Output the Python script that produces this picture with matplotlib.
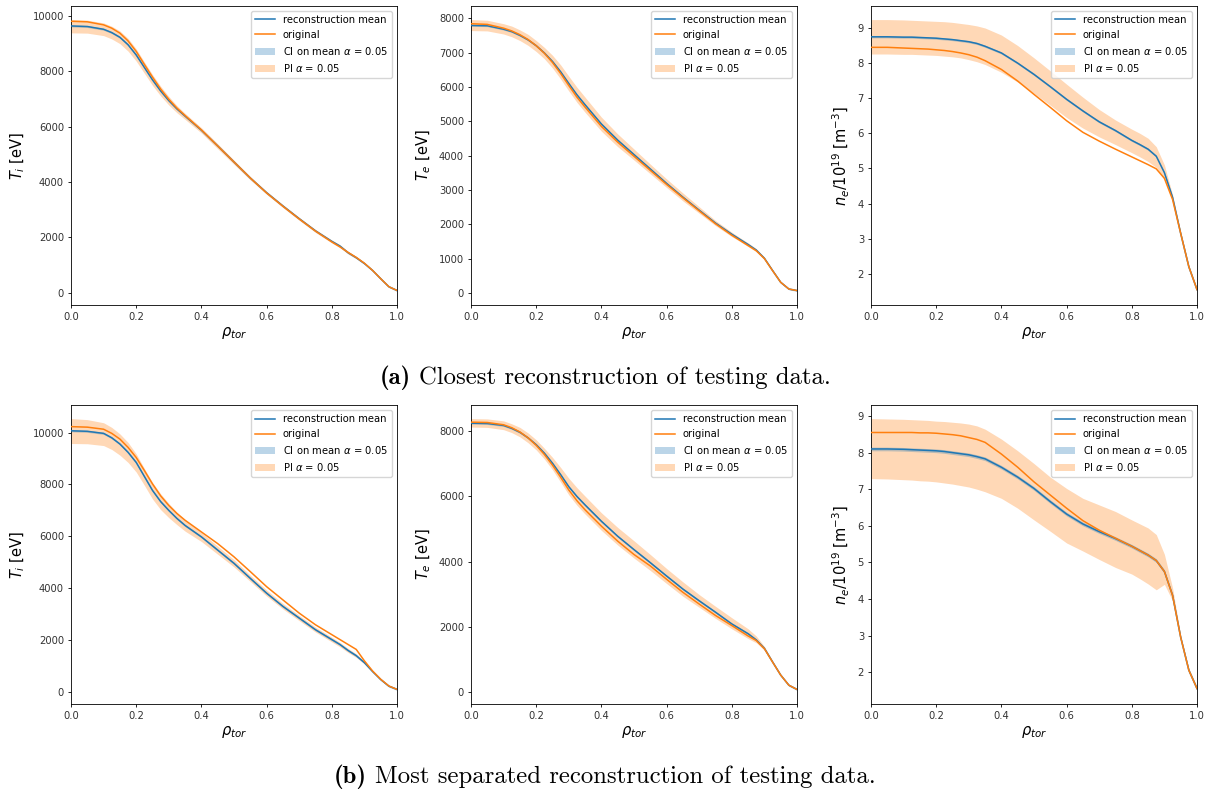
import matplotlib
matplotlib.use("Agg")
import matplotlib.pyplot as plt
import numpy as np

# ---------------- data ----------------
rho = [0, .05, .1, .125, .15, .175, .2, .225, .25, .275, .3, .325, .35, .4, .45,
       .5, .55, .6, .65, .7, .75, .8, .825, .85, .875, .9, .925, .95, .975, 1.0]

# (a) closest reconstruction
a_ti_orig = [9810, 9790, 9680, 9560, 9380, 9100, 8720, 8250, 7790, 7360,
             6990, 6670, 6400, 5880, 5300, 4720, 4140, 3600, 3120, 2660,
             2220, 1830, 1650, 1450, 1270, 1060, 800, 500, 210, 75]
a_ti_mean = [9640, 9620, 9520, 9400, 9230, 8960, 8590, 8140, 7690, 7290,
             6940, 6640, 6380, 5870, 5300, 4720, 4140, 3610, 3130, 2670,
             2230, 1850, 1680, 1440, 1260, 1050, 800, 500, 210, 75]
a_ti_pi_hi = [9870, 9850, 9750, 9630, 9460, 9190, 8810, 8340, 7880, 7460,
              7090, 6760, 6480, 5960, 5380, 4790, 4200, 3660, 3180, 2720,
              2280, 1900, 1730, 1490, 1300, 1080, 825, 515, 220, 85]
a_ti_pi_lo = [9390, 9380, 9290, 9170, 9000, 8730, 8370, 7930, 7490, 7110,
              6780, 6500, 6260, 5770, 5200, 4630, 4070, 3550, 3070, 2610,
              2170, 1790, 1620, 1390, 1220, 1020, 775, 480, 195, 65]
a_ti_ci = 35

a_te_orig = [7840, 7820, 7710, 7630, 7520, 7380, 7200, 6980, 6710, 6390,
             6040, 5700, 5410, 4850, 4390, 3980, 3570, 3160, 2770, 2390,
             2015, 1680, 1530, 1380, 1230, 1000, 650, 310, 115, 70]
a_te_mean = [7790, 7780, 7680, 7610, 7500, 7370, 7200, 6990, 6740, 6440,
             6100, 5770, 5480, 4920, 4450, 4030, 3610, 3190, 2790, 2410,
             2035, 1710, 1560, 1410, 1250, 1010, 655, 310, 115, 70]
a_te_pi_hi = [7960, 7940, 7840, 7770, 7660, 7530, 7350, 7150, 6920, 6640,
              6310, 5990, 5700, 5120, 4630, 4190, 3750, 3320, 2910, 2510,
              2110, 1770, 1610, 1460, 1290, 1040, 680, 330, 130, 85]
a_te_pi_lo = [7640, 7630, 7540, 7460, 7350, 7210, 7030, 6820, 6550, 6230,
              5880, 5550, 5260, 4710, 4260, 3870, 3470, 3070, 2680, 2320,
              1960, 1640, 1500, 1350, 1200, 970, 625, 290, 100, 55]
a_te_ci = 25

a_ne_orig = [8.45, 8.45, 8.43, 8.42, 8.41, 8.40, 8.38, 8.36, 8.33, 8.29,
             8.24, 8.17, 8.07, 7.82, 7.49, 7.11, 6.74, 6.36, 6.03, 5.78,
             5.55, 5.33, 5.22, 5.11, 4.99, 4.72, 4.12, 3.15, 2.2, 1.55]
a_ne_mean = [8.75, 8.75, 8.74, 8.74, 8.73, 8.72, 8.71, 8.69, 8.67, 8.64,
             8.61, 8.56, 8.48, 8.29, 8.0, 7.68, 7.33, 6.97, 6.64, 6.33,
             6.08, 5.8, 5.68, 5.55, 5.35, 4.88, 4.18, 3.15, 2.2, 1.55]
a_ne_pi_hi = [9.24, 9.24, 9.23, 9.22, 9.21, 9.2, 9.19, 9.18, 9.16, 9.13,
              9.1, 9.06, 9.0, 8.8, 8.5, 8.15, 7.78, 7.4, 7.03, 6.68,
              6.38, 6.12, 6.0, 5.86, 5.62, 5.1, 4.25, 3.2, 2.25, 1.6]
a_ne_pi_lo = [8.26, 8.26, 8.25, 8.25, 8.24, 8.23, 8.22, 8.2, 8.18, 8.15,
              8.1, 8.04, 7.96, 7.74, 7.46, 7.14, 6.8, 6.45, 6.15, 5.9,
              5.68, 5.45, 5.33, 5.2, 5.03, 4.68, 4.08, 3.1, 2.15, 1.5]
a_ne_ci = 0.03

# (b) most separated reconstruction
b_ti_orig = [10230, 10210, 10130, 9970, 9750, 9430, 9040, 8540, 8020, 7560,
             7190, 6880, 6620, 6170, 5720, 5210, 4640, 4060, 3550, 3040,
             2590, 2210, 2020, 1830, 1640, 1200, 810, 490, 230, 100]
b_ti_mean = [10070, 10050, 9970, 9800, 9560, 9240, 8850, 8310, 7770, 7340,
             7000, 6690, 6420, 5980, 5470, 4960, 4380, 3810, 3300, 2850,
             2400, 2020, 1830, 1600, 1400, 1130, 790, 480, 225, 100]
b_ti_pi_hi = [10540, 10500, 10380, 10200, 9950, 9620, 9180, 8620, 8080, 7640,
              7270, 6930, 6630, 6150, 5620, 5100, 4500, 3930, 3410, 2950,
              2500, 2110, 1910, 1680, 1470, 1180, 820, 500, 240, 110]
b_ti_pi_lo = [9580, 9570, 9500, 9350, 9130, 8850, 8480, 7970, 7440, 7030,
              6720, 6450, 6200, 5800, 5310, 4820, 4260, 3700, 3200, 2750,
              2310, 1930, 1740, 1520, 1330, 1080, 760, 460, 210, 90]
b_ti_ci = 40

b_te_orig = [8280, 8270, 8200, 8110, 7980, 7800, 7570, 7290, 6960, 6590,
             6200, 5870, 5590, 5090, 4630, 4220, 3870, 3460, 3060, 2700,
             2350, 2040, 1880, 1720, 1580, 1330, 920, 520, 210, 80]
b_te_mean = [8250, 8240, 8180, 8090, 7970, 7800, 7590, 7330, 7020, 6670,
             6300, 6000, 5740, 5240, 4780, 4370, 3970, 3560, 3160, 2800,
             2450, 2090, 1940, 1790, 1600, 1340, 925, 520, 210, 80]
b_te_pi_hi = [8390, 8380, 8320, 8230, 8120, 7950, 7740, 7480, 7200, 6890,
              6560, 6270, 6010, 5500, 5050, 4640, 4220, 3790, 3380, 2990,
              2630, 2280, 2110, 1940, 1720, 1400, 960, 550, 230, 95]
b_te_pi_lo = [8130, 8120, 8050, 7960, 7830, 7650, 7430, 7150, 6820, 6440,
              6050, 5730, 5460, 4960, 4510, 4110, 3730, 3330, 2940, 2600,
              2260, 1940, 1790, 1640, 1510, 1280, 890, 490, 190, 65]
b_te_ci = 30

b_ne_orig = [8.55, 8.55, 8.55, 8.55, 8.54, 8.54, 8.53, 8.51, 8.49, 8.46,
             8.41, 8.36, 8.28, 7.96, 7.6, 7.2, 6.84, 6.48, 6.14, 5.88,
             5.66, 5.44, 5.32, 5.2, 5.05, 4.75, 4.1, 2.95, 2.05, 1.55]
b_ne_mean = [8.1, 8.1, 8.09, 8.08, 8.07, 8.06, 8.05, 8.03, 8.0, 7.97,
             7.94, 7.89, 7.83, 7.6, 7.33, 7.02, 6.66, 6.32, 6.05, 5.84,
             5.65, 5.44, 5.32, 5.2, 5.05, 4.75, 4.1, 2.95, 2.05, 1.55]
b_ne_pi_hi = [8.93, 8.92, 8.91, 8.9, 8.89, 8.88, 8.86, 8.85, 8.83, 8.81,
              8.78, 8.73, 8.64, 8.37, 8.05, 7.7, 7.33, 7.02, 6.75, 6.57,
              6.39, 6.16, 6.05, 5.94, 5.76, 5.22, 4.3, 3.0, 2.1, 1.6]
b_ne_pi_lo = [7.29, 7.28, 7.26, 7.25, 7.23, 7.22, 7.2, 7.17, 7.14, 7.1,
              7.06, 7.0, 6.93, 6.75, 6.48, 6.16, 5.85, 5.53, 5.31, 5.08,
              4.86, 4.68, 4.55, 4.41, 4.25, 4.4, 3.95, 2.9, 2.0, 1.5]
b_ne_ci = 0.05

ylabels = [r'$T_i$ [eV]', r'$T_e$ [eV]', r'$n_e/10^{19}$ [m$^{-3}$]']
xlabel = r'$\rho_{tor}$'
caption_tags = ['(a)', '(b)']
caption_texts = ['Closest reconstruction of testing data.',
                 'Most separated reconstruction of testing data.']

panels = [
    [(a_ti_mean, a_ti_orig, a_ti_ci, a_ti_pi_lo, a_ti_pi_hi),
     (a_te_mean, a_te_orig, a_te_ci, a_te_pi_lo, a_te_pi_hi),
     (a_ne_mean, a_ne_orig, a_ne_ci, a_ne_pi_lo, a_ne_pi_hi)],
    [(b_ti_mean, b_ti_orig, b_ti_ci, b_ti_pi_lo, b_ti_pi_hi),
     (b_te_mean, b_te_orig, b_te_ci, b_te_pi_lo, b_te_pi_hi),
     (b_ne_mean, b_ne_orig, b_ne_ci, b_ne_pi_lo, b_ne_pi_hi)],
]

# ---------------- plot ----------------
plt.rcParams['mathtext.fontset'] = 'dejavusans'
W, H = 1212, 794
fig = plt.figure(figsize=(W / 100, H / 100), dpi=100)

lefts = [71, 471, 871]
tops = [6, 405]
aw, ah = 326, 299
x = np.array(rho)

for r in range(2):
    for c in range(3):
        mean, orig, ci, lo, hi = panels[r][c]
        mean = np.array(mean)
        ax = fig.add_axes([lefts[c] / W, 1 - (tops[r] + ah) / H, aw / W, ah / H])
        ax.plot(x, mean, color='#1f77b4', lw=1.1, label='reconstruction mean', zorder=3)
        ax.plot(x, orig, color='#ff7f0e', lw=1.1, label='original', zorder=3)
        ax.fill_between(x, mean - ci, mean + ci, color='#1f77b4', alpha=0.3, lw=0,
                        label=r'CI on mean $\alpha$ = 0.05', zorder=2)
        ax.fill_between(x, lo, hi, color='#ff7f0e', alpha=0.3, lw=0,
                        label=r'PI $\alpha$ = 0.05', zorder=1)
        ax.set_xlim(0, 1)
        ax.set_xticks([0, 0.2, 0.4, 0.6, 0.8, 1.0])
        ax.set_xlabel(xlabel, fontsize=10.5, labelpad=2)
        ax.set_ylabel(ylabels[c], fontsize=10.5, labelpad=4)
        ax.tick_params(labelsize=7.2, length=2.5, width=0.6, pad=2.5,
                       labelcolor='#333333')
        for s in ax.spines.values():
            s.set_linewidth(0.6)
        ax.legend(loc='upper right', fontsize=7.2, handlelength=2.0,
                  borderaxespad=0.5, framealpha=0.8)

# captions: bold tag + regular text, centred as a whole
renderer = fig.canvas.get_renderer()
fs = 17.8
cap_y = [378, 777]
for tag, txt, yy in zip(caption_tags, caption_texts, cap_y):
    tb = fig.text(0, 1 - yy / H, tag, family='cmb10', fontsize=fs, va='center')
    tr = fig.text(0, 1 - yy / H, txt, family='cmr10', fontsize=fs, va='center')
    wb = tb.get_window_extent(renderer).width
    wr = tr.get_window_extent(renderer).width
    gap = 0.33 * fs * 100 / 72
    x0 = 605 - (wb + gap + wr) / 2
    tb.set_x(x0 / W)
    tr.set_x((x0 + wb + gap) / W)

fig.savefig('out.png', dpi=100)
